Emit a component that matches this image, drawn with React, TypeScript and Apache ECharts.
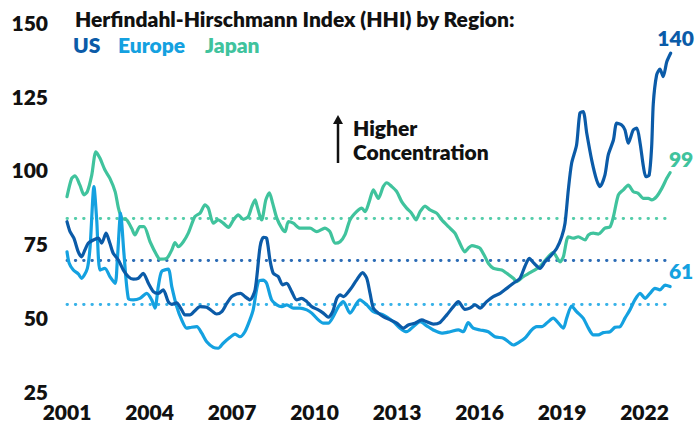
import React, { useEffect, useRef } from "react";
import * as echarts from "echarts";

// ---- data ----
const usYears = [2001.0, 2001.11, 2001.25, 2001.41, 2001.53, 2001.65, 2001.77, 2001.96, 2002.14, 2002.26, 2002.42, 2002.56, 2002.68, 2002.87, 2003.05, 2003.23, 2003.41, 2003.59, 2003.77, 2003.96, 2004.14, 2004.32, 2004.5, 2004.68, 2004.81, 2004.99, 2005.17, 2005.29, 2005.47, 2005.65, 2005.84, 2006.08, 2006.26, 2006.44, 2006.63, 2006.81, 2006.99, 2007.17, 2007.32, 2007.47, 2007.65, 2007.84, 2008.02, 2008.14, 2008.26, 2008.38, 2008.5, 2008.68, 2008.84, 2008.99, 2009.17, 2009.35, 2009.53, 2009.72, 2009.9, 2010.14, 2010.32, 2010.5, 2010.66, 2010.81, 2010.93, 2011.05, 2011.29, 2011.53, 2011.75, 2011.9, 2012.02, 2012.14, 2012.32, 2012.5, 2012.75, 2012.99, 2013.23, 2013.41, 2013.65, 2013.9, 2014.08, 2014.32, 2014.56, 2014.81, 2015.05, 2015.23, 2015.47, 2015.65, 2015.84, 2016.02, 2016.26, 2016.5, 2016.75, 2016.99, 2017.23, 2017.47, 2017.65, 2017.81, 2017.96, 2018.2, 2018.38, 2018.56, 2018.81, 2018.99, 2019.11, 2019.23, 2019.35, 2019.53, 2019.65, 2019.77, 2019.9, 2020.08, 2020.26, 2020.38, 2020.56, 2020.68, 2020.87, 2020.99, 2021.17, 2021.29, 2021.41, 2021.59, 2021.72, 2021.84, 2021.96, 2022.05, 2022.17, 2022.26, 2022.32, 2022.44, 2022.56, 2022.68, 2022.81, 2022.95];
const usValues = [82.4, 79.0, 76.8, 72.2, 70.5, 72.8, 75.1, 76.2, 76.8, 75.1, 78.5, 75.1, 71.7, 69.4, 66.0, 63.8, 62.9, 63.2, 64.9, 61.5, 58.7, 58.1, 59.3, 55.3, 54.4, 54.9, 52.5, 50.8, 50.8, 52.2, 53.6, 53.4, 52.2, 51.1, 51.9, 54.7, 57.0, 57.9, 58.1, 57.0, 55.9, 59.3, 73.9, 77.1, 76.8, 69.4, 64.9, 63.8, 61.0, 61.5, 58.7, 55.9, 56.4, 55.3, 53.6, 52.5, 51.4, 50.0, 51.9, 56.4, 57.6, 57.0, 59.3, 62.6, 65.1, 63.2, 58.1, 53.1, 51.4, 50.2, 49.1, 48.0, 46.3, 47.4, 48.0, 49.1, 48.5, 47.7, 48.2, 50.8, 53.6, 55.3, 52.7, 53.1, 54.2, 53.1, 55.3, 57.0, 58.1, 59.8, 61.5, 63.2, 67.2, 70.0, 68.5, 66.6, 68.8, 70.5, 73.4, 77.3, 81.9, 93.2, 102.2, 108.4, 119.2, 119.7, 112.4, 103.3, 96.5, 94.3, 98.2, 105.0, 110.1, 115.8, 115.2, 113.5, 109.0, 113.5, 114.1, 109.0, 101.1, 97.7, 98.2, 107.8, 122.5, 132.1, 134.1, 131.6, 136.6, 139.5];

const europeYears = [2001.0, 2001.08, 2001.23, 2001.41, 2001.53, 2001.74, 2001.84, 2001.98, 2002.08, 2002.2, 2002.38, 2002.56, 2002.75, 2002.83, 2002.95, 2003.07, 2003.23, 2003.41, 2003.65, 2003.9, 2004.08, 2004.2, 2004.32, 2004.44, 2004.68, 2004.81, 2004.99, 2005.17, 2005.35, 2005.53, 2005.72, 2005.9, 2006.08, 2006.32, 2006.5, 2006.68, 2006.93, 2007.11, 2007.29, 2007.47, 2007.65, 2007.77, 2007.96, 2008.14, 2008.26, 2008.44, 2008.63, 2008.81, 2008.99, 2009.23, 2009.47, 2009.72, 2009.9, 2010.14, 2010.32, 2010.5, 2010.68, 2010.87, 2011.05, 2011.29, 2011.65, 2011.9, 2012.14, 2012.5, 2012.87, 2013.11, 2013.35, 2013.59, 2013.84, 2014.08, 2014.32, 2014.63, 2014.93, 2015.23, 2015.41, 2015.59, 2015.77, 2016.02, 2016.32, 2016.56, 2016.87, 2017.05, 2017.23, 2017.47, 2017.65, 2017.9, 2018.08, 2018.26, 2018.5, 2018.68, 2018.87, 2019.05, 2019.17, 2019.35, 2019.53, 2019.77, 2019.96, 2020.14, 2020.32, 2020.5, 2020.75, 2020.93, 2021.11, 2021.29, 2021.47, 2021.65, 2021.84, 2022.02, 2022.2, 2022.38, 2022.56, 2022.75, 2022.93];
const europeValues = [72.2, 68.3, 66.0, 64.7, 63.2, 66.6, 73.9, 94.3, 83.0, 66.0, 66.6, 63.8, 61.5, 69.4, 85.3, 71.7, 56.4, 55.9, 56.4, 58.1, 55.9, 53.1, 60.4, 65.5, 66.3, 60.4, 53.6, 49.1, 46.3, 46.6, 46.8, 44.6, 41.7, 39.8, 39.5, 41.2, 43.2, 44.3, 43.4, 45.1, 49.1, 52.5, 62.1, 62.6, 61.5, 55.9, 54.2, 53.6, 54.2, 53.1, 53.1, 52.5, 51.4, 49.1, 48.0, 48.0, 50.2, 53.6, 55.3, 51.4, 55.9, 54.2, 51.9, 50.8, 48.5, 46.3, 45.1, 46.8, 48.5, 47.1, 45.7, 44.6, 45.1, 45.7, 45.1, 48.2, 46.3, 45.7, 45.1, 43.4, 42.9, 41.7, 40.6, 41.7, 42.9, 45.7, 46.8, 46.8, 48.5, 49.7, 48.0, 46.3, 49.7, 53.8, 51.9, 49.7, 46.3, 44.0, 44.0, 44.8, 45.1, 46.6, 46.8, 49.7, 52.5, 55.9, 58.1, 56.4, 58.1, 59.8, 59.3, 60.9, 60.4];

const japanYears = [2001.0, 2001.17, 2001.29, 2001.47, 2001.62, 2001.74, 2001.9, 2002.05, 2002.2, 2002.38, 2002.56, 2002.75, 2002.87, 2002.99, 2003.17, 2003.35, 2003.47, 2003.65, 2003.8, 2004.02, 2004.26, 2004.38, 2004.63, 2004.81, 2004.93, 2005.05, 2005.23, 2005.41, 2005.65, 2005.84, 2006.02, 2006.14, 2006.32, 2006.5, 2006.68, 2006.87, 2007.05, 2007.23, 2007.41, 2007.59, 2007.72, 2007.84, 2007.9, 2008.02, 2008.08, 2008.23, 2008.36, 2008.48, 2008.63, 2008.81, 2008.93, 2009.05, 2009.23, 2009.47, 2009.84, 2010.08, 2010.38, 2010.56, 2010.75, 2010.93, 2011.11, 2011.29, 2011.53, 2011.72, 2011.84, 2011.99, 2012.14, 2012.32, 2012.5, 2012.63, 2012.81, 2012.99, 2013.17, 2013.35, 2013.53, 2013.69, 2013.84, 2014.02, 2014.2, 2014.44, 2014.63, 2014.87, 2015.11, 2015.23, 2015.47, 2015.59, 2015.72, 2015.9, 2016.02, 2016.2, 2016.32, 2016.5, 2016.81, 2016.99, 2017.23, 2017.35, 2017.59, 2017.84, 2018.2, 2018.5, 2018.68, 2018.93, 2019.05, 2019.23, 2019.41, 2019.59, 2019.84, 2019.96, 2020.14, 2020.32, 2020.56, 2020.75, 2020.87, 2021.05, 2021.23, 2021.41, 2021.59, 2021.77, 2021.96, 2022.14, 2022.26, 2022.44, 2022.63, 2022.81, 2022.93];
const japanValues = [90.9, 97.1, 97.9, 94.8, 91.5, 92.6, 98.2, 106.1, 103.9, 99.9, 97.1, 92.6, 87.0, 83.6, 83.0, 80.2, 77.9, 80.7, 80.7, 75.6, 71.1, 69.7, 70.0, 72.8, 75.3, 73.9, 75.6, 78.5, 84.1, 85.3, 88.1, 87.0, 81.9, 83.0, 81.9, 80.5, 83.0, 84.7, 83.2, 84.1, 87.5, 89.8, 88.1, 84.1, 83.0, 89.8, 92.2, 88.6, 83.6, 80.2, 79.0, 82.4, 81.9, 80.2, 80.2, 79.0, 80.2, 79.0, 75.1, 75.6, 78.0, 83.0, 85.8, 87.0, 85.8, 89.2, 93.2, 90.3, 94.3, 95.6, 94.3, 92.6, 89.2, 87.0, 85.3, 83.0, 85.8, 87.7, 86.4, 85.3, 83.0, 80.7, 78.5, 76.2, 72.2, 73.4, 74.3, 73.9, 73.4, 70.5, 68.3, 66.6, 66.0, 64.9, 63.2, 62.1, 63.8, 65.1, 67.2, 70.5, 71.9, 68.8, 70.5, 77.3, 76.8, 77.3, 76.2, 77.9, 78.5, 78.2, 80.2, 80.7, 84.1, 91.5, 93.2, 94.8, 92.6, 92.0, 90.3, 90.3, 89.8, 90.9, 93.7, 97.1, 99.0];

const seriesNames = ["Japan", "Europe", "US"];
const averageValues = [83.6, 54.4, 69.4];
const endLabels = ["99", "61", "140"];
const xTicks = [2001, 2004, 2007, 2010, 2013, 2016, 2019, 2022];
const yTicks = [25, 50, 75, 100, 125, 150];
const titleText = "Herfindahl-Hirschmann Index (HHI) by Region:";
const legendNames = ["US", "Europe", "Japan"];
const annotationLines = ["Higher", "Concentration"];

// ---- styles ----
const FONT = "Lato";
const FW = "800";
const FS = 21;
const colors = ["#40c39d", "#14a1e0", "#0b5ba8"];
const legendColors = ["#0b5ba8", "#14a1e0", "#40c39d"];
const legendX = [73, 118, 205];
const avgColors = ["#55cdaa", "#38b2e8", "#2c6cb6"];
const labelOffsets = [[11, 1], [11, -1], [5, 0]];

const xs = [japanYears, europeYears, usYears];
const ys = [japanValues, europeValues, usValues];

export default function App() {
  const ref = useRef<HTMLDivElement>(null);
  useEffect(() => {
    if (!ref.current) return;
    const chart = echarts.init(ref.current, null, { renderer: "svg" });
    const font = `${FW} ${FS}px ${FONT}`;
    const series = seriesNames.map((name, i) => {
      const data = xs[i].map((x, k) => [x, ys[i][k]]);
      const last = data[data.length - 1];
      return {
        name,
        type: "line",
        data,
        smooth: 0.25,
        showSymbol: false,
        symbol: "none",
        lineStyle: { color: colors[i], width: 3.2, cap: "round", join: "round" },
        itemStyle: { color: colors[i] },
        z: 3 + i,
        markLine: {
          silent: true,
          symbol: "none",
          label: { show: false },
          z: 1,
          lineStyle: { color: avgColors[i], width: 2.9, type: [0.5, 7.8], cap: "round" },
          data: [{ yAxis: averageValues[i] }],
        },
        markPoint: {
          silent: true,
          symbol: "circle",
          symbolSize: 0,
          data: [{ coord: last, value: endLabels[i] }],
          label: {
            show: true,
            position: "top",
            distance: 5,
            offset: labelOffsets[i],
            formatter: endLabels[i],
            color: colors[i],
            fontFamily: FONT,
            fontWeight: FW,
            fontSize: FS,
          },
        },
      };
    });

    const axisLabelBase = {
      color: "#111111",
      fontFamily: FONT,
      fontWeight: FW,
      fontSize: FS,
    };

    const option = {
      animation: false,
      backgroundColor: "#ffffff",
      grid: { left: 67, right: 23, top: 22.3, bottom: 37, containLabel: false },
      xAxis: {
        type: "value",
        min: 2001,
        max: 2023,
        interval: 3,
        axisLine: { show: false },
        axisTick: { show: false },
        splitLine: { show: false },
        axisLabel: {
          ...axisLabelBase,
          margin: 10,
          formatter: (v: number) => (xTicks.includes(v) ? String(v) : ""),
        },
      },
      yAxis: {
        type: "value",
        min: 25,
        max: 150,
        interval: 25,
        axisLine: { show: false },
        axisTick: { show: false },
        splitLine: { show: false },
        axisLabel: {
          ...axisLabelBase,
          margin: 19,
          formatter: (v: number) => (yTicks.includes(v) ? String(v) : ""),
        },
      },
      graphic: [
        {
          type: "text",
          left: 75,
          top: 8,
          style: { text: titleText, fill: "#111111", font },
        },
        ...legendNames.map((n, i) => ({
          type: "text",
          left: legendX[i],
          top: 34,
          style: { text: n, fill: legendColors[i], font },
        })),
        {
          type: "line",
          shape: { x1: 338, y1: 163, x2: 338, y2: 122 },
          style: { stroke: "#111111", lineWidth: 2.5 },
        },
        {
          type: "polygon",
          shape: { points: [[333, 124], [343, 124], [338, 115]] },
          style: { fill: "#111111" },
        },
        {
          type: "text",
          left: 353,
          top: 117,
          style: { text: annotationLines[0], fill: "#111111", font },
        },
        {
          type: "text",
          left: 353,
          top: 141,
          style: { text: annotationLines[1], fill: "#111111", font },
        },
      ],
      series,
    };
    chart.setOption(option as any);
    return () => chart.dispose();
  }, []);
  return <div ref={ref} style={{ width: 695, height: 428, position: "absolute", left: 0, top: 0 }} />;
}
